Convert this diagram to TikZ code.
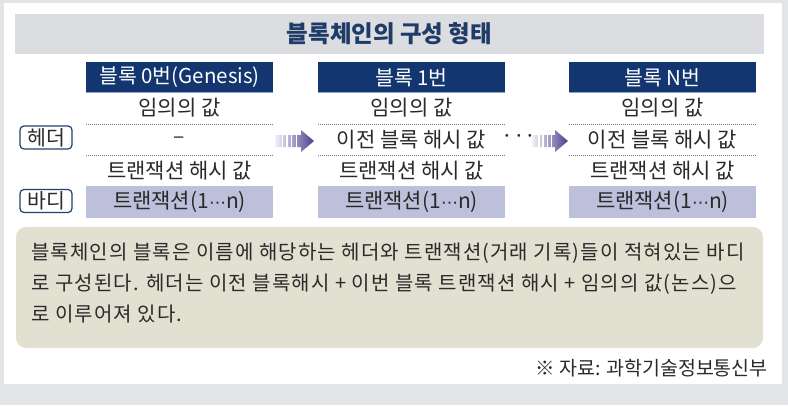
\documentclass[tikz,border=0pt]{standalone}
\usepackage{fontspec}
\setmainfont{Noto Sans CJK KR}
\newfontfamily\bodyfont[LetterSpace=5.5]{Noto Sans CJK KR}
\newfontfamily\symfont{DejaVu Sans}
\definecolor{outerbg}{HTML}{E3E4E6}
\definecolor{titleband}{HTML}{DCDDE0}
\definecolor{titletxt}{HTML}{1F3B68}
\definecolor{navy}{HTML}{133670}
\definecolor{navyline}{HTML}{8FA3C6}
\definecolor{tagline}{HTML}{22406E}
\definecolor{lav}{HTML}{BDC0DA}
\definecolor{beige}{HTML}{E2E0D1}
\definecolor{txt}{HTML}{2A2A2A}
\definecolor{dotgray}{HTML}{777777}
\definecolor{arL}{HTML}{F2F0F8}
\definecolor{arR}{HTML}{4E3D8C}
\newcommand\mydots{{\symfont\fontsize{17}{20}\selectfont ⋯}}
\begin{document}
\begin{tikzpicture}[x=1pt,y=-1pt,
  hdrbox/.style={fill=navy, text=white, minimum width=187pt, minimum height=31pt, inner sep=0pt, font=\fontsize{20.5}{23}\selectfont},
  hdrline/.style={draw=navyline, line width=1pt},
  rowtxt/.style={text=txt, inner sep=0pt, font=\fontsize{21}{24}\selectfont},
  bodybox/.style={fill=lav, text=txt, minimum width=187pt, minimum height=32pt, inner sep=0pt, font=\fontsize{21}{24}\selectfont},
  tagbox/.style={draw=tagline, line width=1.2pt, rounded corners=4pt, minimum width=52pt, minimum height=23pt, inner sep=0pt, font=\fontsize{20.5}{22}\selectfont, text=txt},
  dotline/.style={draw=dotgray, line width=0.7pt, dash pattern=on 0.7pt off 1.3pt},
  pics/stripearrow/.style={code={
    \shade[left color=arL, right color=arR] (0,-6) -- (#1-13,-6) -- (#1-13,-11) -- (#1,0) -- (#1-13,11) -- (#1-13,6) -- (0,6) -- cycle;
    \foreach \g in {0.17,0.29,0.41,0.53} {\fill[white] (#1*\g,-6.5) rectangle (#1*\g+1.4,6.5);}
  }}
]
\fill[outerbg] (0,0) rectangle (788,405);
\useasboundingbox (0,0) rectangle (788,405);
\fill[white] (4,3) rectangle (782,384);
\fill[titleband] (15,14) rectangle (764,54);
\node[font=\bfseries\fontsize{23.5}{27}\selectfont, text=titletxt] (title) at (389.5,34) {블록체인의 구성 형태};

\foreach \i/\cx/\ttl/\prev in {1/179.5/{블록 0번(Genesis)}/{–}, 2/411.5/{블록 1번}/{이전 블록 해시 값}, 3/662.5/{블록 N번}/{이전 블록 해시 값}} {
  \node[hdrbox] (h\i) at (\cx,77.5) {\ttl};
  \draw[hdrline] ([yshift=0.5pt]h\i.south west) -- ([yshift=0.5pt]h\i.south east);
  \node[rowtxt] (n\i) at (\cx,108) {임의의 값};
  \node[rowtxt] (p\i) at (\cx,140) {\prev};
  \node[rowtxt] (t\i) at (\cx,171) {트랜잭션 해시 값};
  \node[bodybox] (d\i) at (\cx,202) {트랜잭션(1\mydots n)};
  \draw[dotline] (\cx-93.5,124) -- (\cx+93.5,124);
  \draw[dotline] (\cx-93.5,155) -- (\cx+93.5,155);
}

\node[tagbox] (hd) at (46,137.5) {헤더};
\node[tagbox] (bd) at (46,201) {바디};

\coordinate (a1) at (275,141);
\coordinate (a2) at (532,141);
\pic at (a1) {stripearrow=39};
\node[rowtxt] (dots) at (519,139) {···};
\pic at (a2) {stripearrow=36};

\fill[beige, rounded corners=10pt] (16,227) rectangle (763,348);
\node[anchor=west, align=left, font=\bodyfont\fontsize{20}{31}\selectfont, text=txt, inner sep=0pt] (desc) at (31,283)
  {블록체인의 블록은 이름에 해당하는 헤더와 트랜잭션(거래 기록)들이 적혀있는 바디\\
   로 구성된다. 헤더는 이전 블록해시 + 이번 블록 트랜잭션 해시 + 임의의 값(논스)으\\
   로 이루어져 있다.};
\node[anchor=east, font=\fontsize{19.5}{22}\selectfont, text=txt, inner sep=0pt] (src) at (768,368) {※ 자료: 과학기술정보통신부};
\end{tikzpicture}
\end{document}
